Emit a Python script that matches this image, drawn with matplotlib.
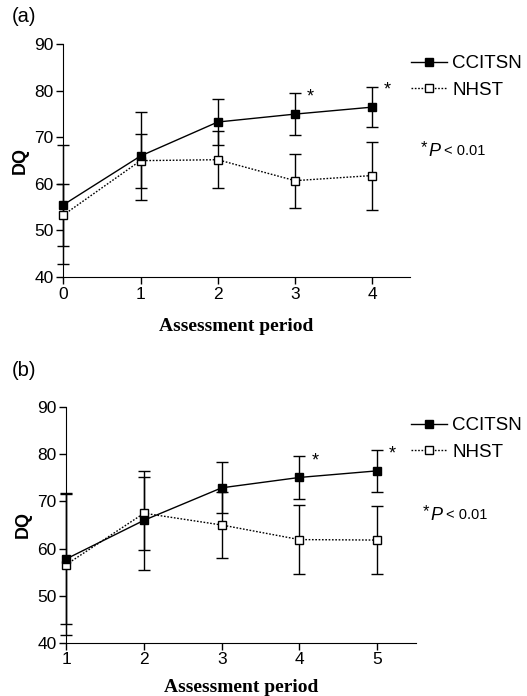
import matplotlib
matplotlib.use("Agg")
import matplotlib.pyplot as plt
from matplotlib.lines import Line2D

plt.rcParams['font.family'] = ['Liberation Sans', 'DejaVu Sans']

# panel (a)
periods_a = [0, 1, 2, 3, 4]
ccitsn_a = [55.5, 66.0, 73.3, 75.0, 76.5]
ccitsn_err_a = [12.8, 9.5, 5.0, 4.5, 4.3]
nhst_a = [53.3, 65.0, 65.2, 60.7, 61.8]
nhst_err_a = [6.6, 5.8, 6.1, 5.8, 7.3]
stars_a = [(3.2, 79.5), (4.2, 80.9)]

# panel (b)
periods_b = [1, 2, 3, 4, 5]
ccitsn_b = [57.8, 66.0, 72.9, 75.1, 76.5]
ccitsn_err_b = [13.9, 10.5, 5.4, 4.6, 4.4]
nhst_b = [56.6, 67.5, 65.0, 61.9, 61.8]
nhst_err_b = [15.0, 7.8, 7.1, 7.3, 7.3]
stars_b = [(4.2, 79.5), (5.2, 80.9)]

W, H = 527, 696
fig = plt.figure(figsize=(W / 100, H / 100), dpi=100)


def px(x, y):
    return x / W, 1 - y / H


def panel(rect, xs, c, ce, n, ne, stars, xlim, label, lab_y, leg_y, p_xy, xlpad):
    ax = fig.add_axes(rect)
    ax.errorbar(xs, n, yerr=ne, fmt='none', ecolor='black', elinewidth=1.0,
                capsize=4, capthick=1.0, clip_on=False, zorder=2)
    ax.errorbar(xs, c, yerr=ce, fmt='none', ecolor='black', elinewidth=1.0,
                capsize=4, capthick=1.0, clip_on=False, zorder=2)
    ax.plot(xs, n, linestyle=(0, (1.2, 1.2)), color='black', lw=1.0,
            marker='s', markersize=6, markerfacecolor='white',
            markeredgecolor='black', markeredgewidth=1.0, clip_on=False, zorder=3)
    ax.plot(xs, c, linestyle='-', color='black', lw=1.0,
            marker='s', markersize=6, markerfacecolor='black',
            markeredgecolor='black', clip_on=False, zorder=4)
    for sx, sy in stars:
        ax.text(sx, sy - 0.8, '*', ha='center', va='center', fontsize=13)
    ax.set_xlim(*xlim)
    ax.set_ylim(40, 90)
    ax.set_xticks(xs)
    ax.set_yticks([40, 50, 60, 70, 80, 90])
    ax.spines['top'].set_visible(False)
    ax.spines['right'].set_visible(False)
    ax.tick_params(direction='out', length=5, width=1, labelsize=12.5, pad=2)
    ax.set_ylabel('DQ', fontsize=13, fontweight='bold', labelpad=4)
    ax.set_xlabel('Assessment period', fontsize=14, fontweight='bold',
                  family='Liberation Serif', labelpad=xlpad)
    fx, fy = px(12, lab_y)
    fig.text(fx, fy, label, fontsize=14.5, va='center', ha='left')

    handles = [Line2D([], [], color='black', lw=1.0, marker='s', markersize=6,
                      markerfacecolor='black'),
               Line2D([], [], color='black', lw=1.0, linestyle=(0, (1.2, 1.2)),
                      marker='s', markersize=6, markerfacecolor='white')]
    lx, ly = px(411, leg_y)
    fig.legend(handles, ['CCITSN', 'NHST'], loc='upper left',
               bbox_to_anchor=(lx, ly), frameon=False, fontsize=13.5,
               handlelength=1.9, handletextpad=0.3, borderpad=0,
               borderaxespad=0, labelspacing=0.5)
    tx, ty = px(*p_xy)
    fig.text(tx, ty + 0.005, '*', fontsize=12, va='center', ha='left')
    fig.text(tx + 7 / W, ty, 'P', fontsize=13, style='italic', va='center', ha='left')
    fig.text(tx + 23 / W, ty, '< 0.01', fontsize=10.5, va='center', ha='left')
    return ax


panel([63.3 / W, 1 - 277 / H, (410 - 63.3) / W, (277 - 44.3) / H],
      periods_a, ccitsn_a, ccitsn_err_a, nhst_a, nhst_err_a, stars_a,
      (0, 4.49), '(a)', 17, 55, (421, 151), 12)
panel([66.3 / W, 1 - 642.7 / H, (416 - 66.3) / W, (642.7 - 407.3) / H],
      periods_b, ccitsn_b, ccitsn_err_b, nhst_b, nhst_err_b, stars_b,
      (1, 5.5), '(b)', 370, 417, (423, 515), 8)

fig.savefig('out.png', dpi=100)
